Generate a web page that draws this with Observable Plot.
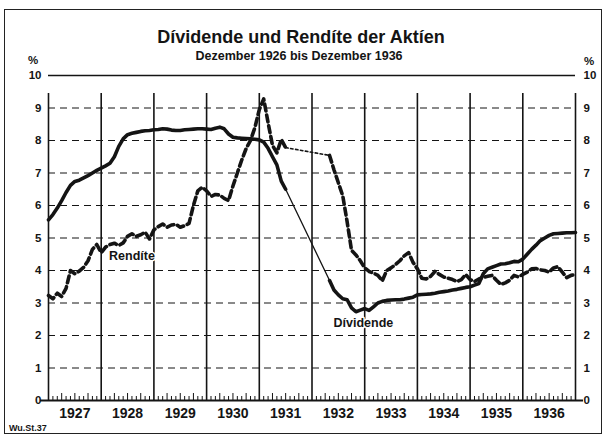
<!DOCTYPE html>
<html><head><meta charset="utf-8">
<script src="https://cdn.jsdelivr.net/npm/d3@7"></script>
<script src="https://cdn.jsdelivr.net/npm/@observablehq/plot@0.6"></script>
<style>
html,body{margin:0;padding:0;background:#fff;}
#wrap{position:relative;width:614px;height:439px;overflow:hidden;font-family:"Liberation Sans",Arial,sans-serif;color:#141414;background:#fff;}
#wrap svg{position:absolute;left:0;top:0;}
.t{position:absolute;white-space:nowrap;font-weight:bold;line-height:1;}
#frame{position:absolute;left:4px;top:9px;width:598px;height:425px;border:1.5px solid #222;box-sizing:border-box;}
</style></head><body>
<div id="wrap">
 <div id="frame"></div>
</div>
<script>
// ---- data (monthly, index 0 = Dez 1926 ... 120 = Dez 1936) ----
const years = [1927,1928,1929,1930,1931,1932,1933,1934,1935,1936];
const yTicks = [0,1,2,3,4,5,6,7,8,9,10];
const dividende = [
 5.56,5.72,5.92,6.15,6.40,6.62,6.74,6.78,6.85,6.92,
 7.00,7.08,7.15,7.22,7.30,7.50,7.82,8.05,8.18,8.22,
 8.25,8.28,8.30,8.31,8.33,8.34,8.36,8.35,8.32,8.31,
 8.31,8.33,8.34,8.35,8.36,8.36,8.35,8.34,8.38,8.41,
 8.36,8.20,8.10,8.08,8.07,8.06,8.05,8.04,8.02,7.95,
 7.76,7.50,7.25,6.75,6.50,null,null,null,null,null,
 null,null,null,null,3.69,3.40,3.25,3.13,3.10,2.85,
 2.73,2.78,2.83,2.77,2.88,3.00,3.05,3.08,3.09,3.10,
 3.10,3.12,3.15,3.18,3.25,3.26,3.27,3.28,3.30,3.33,
 3.35,3.37,3.40,3.42,3.45,3.48,3.50,3.55,3.60,3.90,
 4.05,4.10,4.15,4.20,4.21,4.24,4.28,4.27,4.35,4.50,
 4.65,4.78,4.92,5.00,5.08,5.13,5.14,5.15,5.16,5.16,
 5.17];
const rendite = [
 3.23,3.13,3.30,3.20,3.45,4.00,3.90,3.98,4.10,4.30,
 4.65,4.80,4.55,4.72,4.80,4.84,4.77,4.85,5.05,5.13,
 5.05,5.10,5.18,4.97,5.25,5.35,5.43,5.33,5.40,5.42,
 5.33,5.38,5.45,6.00,6.45,6.56,6.45,6.28,6.34,6.32,
 6.22,6.15,6.60,7.00,7.40,7.75,8.00,8.40,8.95,9.28,
 8.55,7.85,7.62,8.03,7.78,null,null,null,null,null,
 null,null,null,null,7.54,7.10,6.70,6.30,5.50,4.62,
 4.48,4.30,4.08,3.97,3.92,3.85,3.68,4.00,4.08,4.18,
 4.30,4.45,4.55,4.25,4.05,3.76,3.74,3.82,3.97,3.88,
 3.80,3.76,3.72,3.66,3.72,3.88,3.72,3.66,3.74,3.79,
 3.82,3.85,3.70,3.57,3.62,3.70,3.85,3.80,3.88,3.95,
 4.05,4.06,4.02,4.00,3.95,4.08,4.12,3.95,3.78,3.85,
 3.88];
const seriesLabels = ["Rendíte","Dívidende"];
const labelPos = [[19,4.45],[71.7,2.38]];
const title = "Dívidende und Rendíte der Aktíen";
const subtitle = "Dezember 1926 bis Dezember 1936";
const source = "Wu.St.37";

// ---- derived tables ----
const months = d3.range(dividende.length);
const rows = months.map(i => ({t: i, d: dividende[i], r: rendite[i]}));
function gapBridge(arr){
  const first = arr.indexOf(null);
  let last = first; while (arr[last+1] === null) last++;
  return [{t: first-1, v: arr[first-1]}, {t: last+1, v: arr[last+1]}];
}
const yearBounds = d3.range(0, 121, 12);
const minor = months.filter(m => m % 12 !== 0 && m % 3 !== 0);
const quarter = months.filter(m => m % 12 !== 0 && m % 3 === 0);
const labels = seriesLabels.map((s,i) => ({s, t: labelPos[i][0], v: labelPos[i][1]}));
const ink = "#141414";
const font = "Liberation Sans, Arial, sans-serif";

const chart = Plot.plot({
  width: 614, height: 439,
  marginLeft: 48, marginRight: 39, marginTop: 75, marginBottom: 39,
  x: {domain: [0, 120], axis: null},
  y: {domain: [0, 10], axis: null},
  style: {background: "transparent", fontFamily: font, color: ink},
  marks: [
    Plot.ruleY(yTicks.filter(d => d > 0 && d < 10), {stroke: ink, strokeWidth: 1, strokeDasharray: "7,5"}),
    Plot.ruleY([10], {stroke: ink, strokeWidth: 1.5}),
    Plot.ruleX(yearBounds, {y1: 0, y2: 10, insetBottom: -18, stroke: ink, strokeWidth: 1.6}),
    Plot.ruleX(minor, {y1: 0, y2: 0, insetTop: -4, stroke: ink, strokeWidth: 1}),
    Plot.ruleX(quarter, {y1: 0, y2: 0, insetTop: -7, stroke: ink, strokeWidth: 1}),
    Plot.ruleY([0], {insetLeft: -8, insetRight: -8, stroke: ink, strokeWidth: 2}),
    Plot.line(gapBridge(dividende), {x: "t", y: "v", stroke: ink, strokeWidth: 1.3}),
    Plot.line(gapBridge(rendite), {x: "t", y: "v", stroke: ink, strokeWidth: 1.6, strokeDasharray: "2.5,2.5"}),
    Plot.line(rows, {x: "t", y: "d", stroke: ink, strokeWidth: 3.6, strokeLinejoin: "round"}),
    Plot.line(rows, {x: "t", y: "r", stroke: ink, strokeWidth: 3.6, strokeDasharray: "7,4"}),
    Plot.text(yTicks, {x: 0, y: d => d, text: d => String(d), textAnchor: "end", dx: -7, fontSize: 11.5, fontWeight: "bold", fill: ink}),
    Plot.text(yTicks, {x: 120, y: d => d, text: d => String(d), textAnchor: "start", dx: 8, fontSize: 11.5, fontWeight: "bold", fill: ink}),
    Plot.text(years, {x: d => (d - 1927) * 12 + 6, y: 0, text: d => String(d), dy: 13, fontSize: 14, fontWeight: "bold", fill: ink}),
    Plot.text(labels, {x: "t", y: "v", text: "s", fontSize: 12.5, fontWeight: "bold", fill: ink, stroke: "white", strokeWidth: 3, paintOrder: "stroke"})
  ]
});
const wrap = document.getElementById("wrap");
wrap.insertBefore(chart, wrap.firstChild);

function addText(txt, css){
  const d = document.createElement("div");
  d.className = "t"; d.textContent = txt; d.style.cssText += css;
  wrap.appendChild(d);
}
addText(title, "left:0;width:602px;text-align:center;top:28px;font-size:18px;");
addText(subtitle, "left:0;width:598px;text-align:center;top:50px;font-size:12.5px;");
addText("%", "left:28px;top:55px;font-size:11.5px;");
addText("%", "left:584px;top:56px;font-size:11.5px;");
addText(source, "left:9px;top:424px;font-size:9px;");
</script>
</body></html>
